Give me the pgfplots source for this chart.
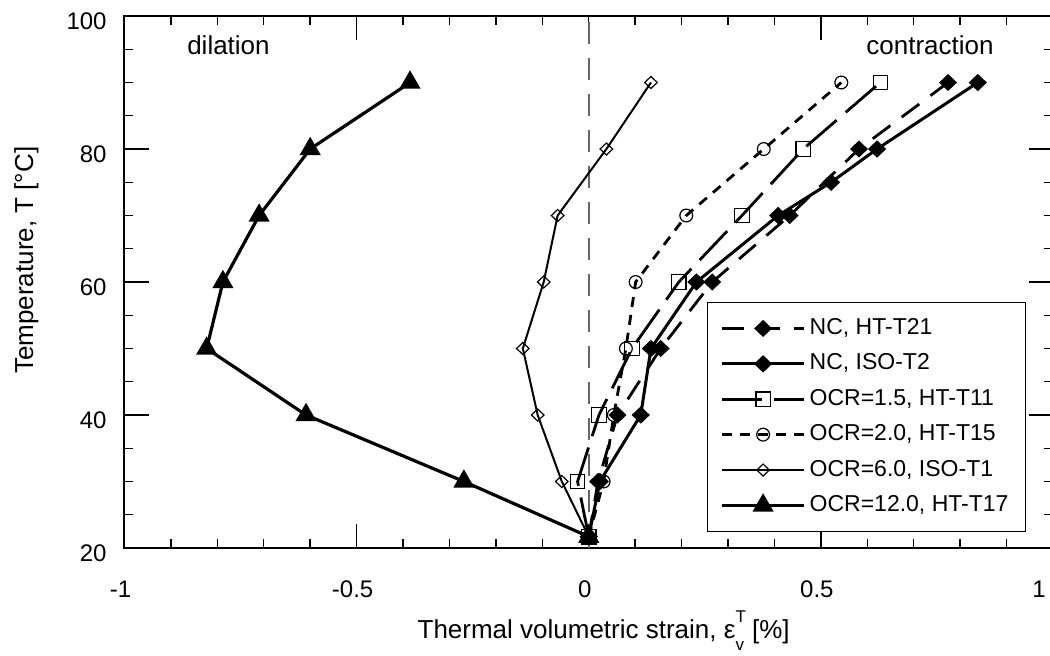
\documentclass[border=0pt]{standalone}
\usepackage{fontspec}
\setmainfont{Liberation Sans}
\usepackage{pgfplots}
\pgfplotsset{compat=1.18}
\begin{document}
\begin{tikzpicture}
\begin{axis}[
  name=ax,
  scale only axis,
  width=464.25pt, height=266pt,
  xmin=-1, xmax=1, ymin=20, ymax=100,
  xtick={-1,-0.5,0,0.5,1},
  xticklabels={-1,-0.5,0,0.5,1\hspace*{10pt}},
  ytick={20,40,60,80,100},
  yticklabels={20,40,60,80,100},
  minor x tick num=4,
  minor y tick num=3,
  tick align=inside,
  major tick length=12pt,
  minor tick length=4.5pt,
  tick style={black, line width=0.7pt},
  axis line style={line width=1pt},
  ticklabel style={font=\fontsize{12}{14}\selectfont, inner sep=0pt},
  xticklabel style={anchor=base, yshift=-24.5pt, xshift=-2pt},
  yticklabel style={anchor=base east, xshift=-8.75pt, yshift=-6.5pt},
  label style={font=\fontsize{13}{15}\selectfont},
  xlabel={Thermal volumetric strain, ε\rlap{\raisebox{1.1ex}{\fontsize{8.5}{9}\selectfont T}}\raisebox{-0.9ex}{\fontsize{8.5}{9}\selectfont v}\hspace{4pt}[\%]},
  ylabel={Temperature, T [°C]},
  xlabel style={at={(axis description cs:0.516,-0.1692)}, anchor=base},
  ylabel style={at={(axis description cs:-0.0985,0.541)}, anchor=base},
  legend style={at={(axis description cs:0.971,0.030)}, anchor=south east, draw=black, line width=0.6pt,
    font=\fontsize{11.5}{13}\selectfont, inner xsep=6.5pt, inner ysep=5.5pt, row sep=2.7pt,
    nodes={inner sep=2pt, text height=8.5pt, text depth=2.5pt}},
  legend cell align=left,
  legend image code/.code={\draw[mark repeat=2,mark phase=2] plot coordinates {(0pt,0pt) (20.5pt,0pt) (41pt,0pt)};},
]
\addplot[black!60, line width=0.8pt, dash pattern=on 11pt off 7pt, forget plot] coordinates {(0,20) (0,100)};

\addplot[black, line width=1.4pt, dash pattern=on 11pt off 7pt, mark=diamond*, mark size=3.3pt, mark options={solid, fill=black, xscale=1.4}]
  coordinates {(0,21.7) (0.02,30) (0.062,40) (0.155,50) (0.266,60) (0.433,70) (0.582,80) (0.774,90)};
\addlegendentry{NC, HT-T21}

\addplot[black, line width=1.5pt, mark=diamond*, mark size=3.3pt, mark options={solid, fill=black, xscale=1.4}]
  coordinates {(0,21.7) (0.024,30) (0.112,40) (0.134,50) (0.232,60) (0.408,70) (0.522,75) (0.621,80) (0.838,90)};
\addlegendentry{NC, ISO-T2}

\addplot[black, line width=1.4pt, dash pattern=on 20pt off 6pt, mark=square, mark size=3.6pt, mark options={solid, line width=0.6pt}]
  coordinates {(0,21.7) (-0.024,30) (0.022,40) (0.093,50) (0.194,60) (0.330,70) (0.462,80) (0.628,90)};
\addlegendentry{OCR=1.5, HT-T11}

\addplot[black, line width=1.4pt, dash pattern=on 5pt off 4pt, mark=o, mark size=3.2pt, mark options={solid, line width=0.6pt}]
  coordinates {(0,21.7) (0.032,30) (0.054,40) (0.08,50) (0.101,60) (0.210,70) (0.377,80) (0.544,90)};
\addlegendentry{OCR=2.0, HT-T15}

\addplot[black, line width=1pt, mark=diamond, mark size=3pt, mark options={solid, fill=white, line width=0.6pt, xscale=1.4}]
  coordinates {(0,21.7) (-0.058,30) (-0.110,40) (-0.142,50) (-0.097,60) (-0.067,70) (0.038,80) (0.134,90)};
\addlegendentry{OCR=6.0, ISO-T1}

\addplot[black, line width=1.6pt, mark=triangle*, mark size=4.5pt, mark options={solid, fill=black}]
  coordinates {(0,21.7) (-0.269,30) (-0.609,40) (-0.823,50) (-0.788,60) (-0.71,70) (-0.60,80) (-0.385,90)};
\addlegendentry{OCR=12.0, HT-T17}

\node[anchor=base, font=\fontsize{13}{15}\selectfont] at (axis cs:-0.776,94.14) {dilation};
\node[anchor=base, font=\fontsize{13}{15}\selectfont] at (axis cs:0.735,94.14) {contraction};
\end{axis}
\pgfresetboundingbox
\useasboundingbox (-62.25pt,-53.5pt) rectangle (462.75pt,274pt);
\end{tikzpicture}
\end{document}
